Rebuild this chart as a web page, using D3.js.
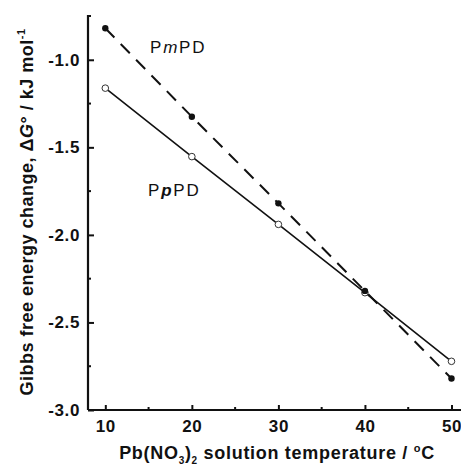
<!DOCTYPE html>
<html><head><meta charset="utf-8">
<script src="https://cdn.jsdelivr.net/npm/d3@7"></script>
<style>
body{margin:0;background:#fff;}
text{font-family:"Liberation Sans",Arial,sans-serif;}
</style></head>
<body><svg id="c" width="461" height="469"></svg>
<script>
const temps = [10, 20, 30, 40, 50];
const pmPD = [-0.82, -1.325, -1.82, -2.32, -2.82];
const ppPD = [-1.162, -1.553, -1.94, -2.33, -2.722];
const xTicks = [10, 20, 30, 40, 50];
const xMinor = [15, 25, 35, 45];
const yTicks = [-1.0, -1.5, -2.0, -2.5, -3.0];
const yMinor = [-0.75, -1.25, -1.75, -2.25, -2.75];

const svg = d3.select("#c");
const x = d3.scaleLinear().domain([8, 51.1]).range([88, 461]);
const y = d3.scaleLinear().domain([-3, -0.75]).range([410, 16]);

// axes
const xAxis = d3.axisBottom(x).tickValues(xTicks).tickSize(-5).tickPadding(10).tickFormat(d3.format("d"));
const gx = svg.append("g").attr("transform","translate(0,410)").call(xAxis);
const yAxis = d3.axisLeft(y).tickValues(yTicks).tickSize(-6).tickPadding(8).tickFormat(d3.format(".1f"));
const gy = svg.append("g").attr("transform","translate(88,0)").call(yAxis);
[gx, gy].forEach(g=>{
  g.select(".domain").attr("stroke","#111").attr("stroke-width",2.2);
  g.selectAll(".tick line").attr("stroke","#111").attr("stroke-width",2);
  g.selectAll(".tick text").attr("fill","#111").style("font-size","17px").style("font-weight","bold")
   .style("letter-spacing","0.6px")
   .style("font-family","'Liberation Sans',Arial,sans-serif");
});
gx.select(".domain").attr("d","M88,0H461");
gy.select(".domain").attr("d","M0,410V15");
gy.selectAll(".tick text").text(d=>d3.format(".1f")(d).replace("−","-"));
// minor ticks
svg.append("g").selectAll("line").data(xMinor).join("line")
  .attr("x1",d=>x(d)).attr("x2",d=>x(d)).attr("y1",410).attr("y2",407)
  .attr("stroke","#111").attr("stroke-width",2);
svg.append("g").selectAll("line").data(yMinor).join("line")
  .attr("x1",88).attr("x2",91).attr("y1",d=>y(d)).attr("y2",d=>y(d))
  .attr("stroke","#111").attr("stroke-width",2);

// lines
const line = d3.line().x(d=>x(d[0])).y(d=>y(d[1]));
svg.append("path").datum(temps.map((t,i)=>[t,pmPD[i]])).attr("d",line)
  .attr("fill","none").attr("stroke","#111").attr("stroke-width",2).attr("stroke-dasharray","13,9");
svg.append("path").datum(temps.map((t,i)=>[t,ppPD[i]])).attr("d",line)
  .attr("fill","none").attr("stroke","#111").attr("stroke-width",1.6);

// markers
svg.append("g").selectAll("circle").data(temps).join("circle")
  .attr("cx",d=>x(d)).attr("cy",(d,i)=>y(ppPD[i])).attr("r",3.3)
  .attr("fill","#fff").attr("stroke","#333").attr("stroke-width",1);
svg.append("g").selectAll("circle").data(temps).join("circle")
  .attr("cx",d=>x(d)).attr("cy",(d,i)=>y(pmPD[i])).attr("r",3.2)
  .attr("fill","#111");

// series labels
const l1 = svg.append("text").attr("x",150).attr("y",53).style("font-size","17px")
  .style("letter-spacing","1.8px").attr("fill","#111");
l1.append("tspan").text("P");
l1.append("tspan").style("font-style","italic").text("m");
l1.append("tspan").text("PD");
const l2 = svg.append("text").attr("x",148).attr("y",196).style("font-size","17px")
  .style("letter-spacing","1.8px").attr("fill","#111");
l2.append("tspan").text("P");
l2.append("tspan").style("font-style","italic").style("font-weight","bold").text("p");
l2.append("tspan").text("PD");

// axis titles
const xt = svg.append("text").attr("x",277).attr("y",459).attr("text-anchor","middle")
  .style("font-size","18px").style("font-weight","bold").style("letter-spacing","0.7px").attr("fill","#111");
xt.append("tspan").text("Pb(NO");
xt.append("tspan").attr("dy",5).style("font-size","10px").text("3");
xt.append("tspan").attr("dy",-5).text(")");
xt.append("tspan").attr("dy",5).style("font-size","10px").text("2");
xt.append("tspan").attr("dy",-5).text(" solution temperature / ");
xt.append("tspan").attr("dy",-7).style("font-size","11px").text("o");
xt.append("tspan").attr("dy",7).text("C");

const yt = svg.append("text").attr("transform","translate(33,212) rotate(-90)").attr("text-anchor","middle")
  .style("font-size","18px").style("font-weight","bold").style("letter-spacing","0.5px").attr("fill","#111");
yt.append("tspan").text("Gibbs free energy change, Δ");
yt.append("tspan").style("font-style","italic").text("G");
yt.append("tspan").text("° / kJ mol");
yt.append("tspan").attr("dy",-8).style("font-size","11px").text("-1");
</script></body></html>
